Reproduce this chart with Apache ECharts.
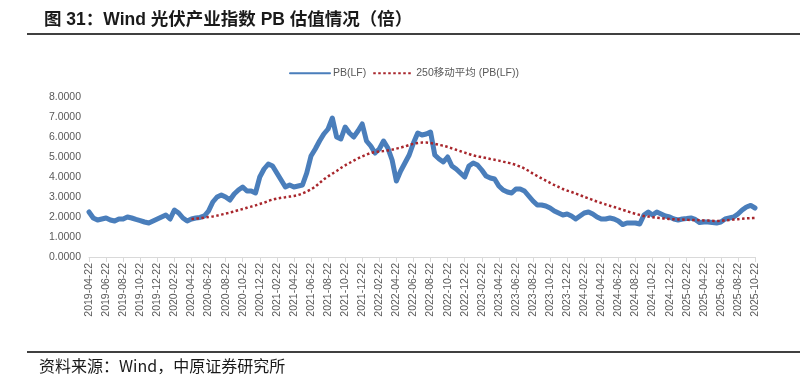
<!DOCTYPE html>
<html>
<head>
<meta charset="utf-8">
<script src="https://cdn.jsdelivr.net/npm/echarts@6/dist/echarts.min.js"></script>
<style>html,body{margin:0;padding:0;background:#fff;}#c{width:809px;height:392px;}</style>
</head>
<body>
<div id="c"></div>
<script>
// Half-month observation dates (category axis)
const dates = [
"2019-04-22","2019-05-07","2019-05-22","2019-06-07","2019-06-22","2019-07-07","2019-07-22","2019-08-07","2019-08-22","2019-09-07","2019-09-22","2019-10-07","2019-10-22","2019-11-07","2019-11-22","2019-12-07","2019-12-22","2020-01-07","2020-01-22","2020-02-07",
"2020-02-22","2020-03-07","2020-03-22","2020-04-07","2020-04-22","2020-05-07","2020-05-22","2020-06-07","2020-06-22","2020-07-07","2020-07-22","2020-08-07","2020-08-22","2020-09-07","2020-09-22","2020-10-07","2020-10-22","2020-11-07","2020-11-22","2020-12-07",
"2020-12-22","2021-01-07","2021-01-22","2021-02-07","2021-02-22","2021-03-07","2021-03-22","2021-04-07","2021-04-22","2021-05-07","2021-05-22","2021-06-07","2021-06-22","2021-07-07","2021-07-22","2021-08-07","2021-08-22","2021-09-07","2021-09-22","2021-10-07",
"2021-10-22","2021-11-07","2021-11-22","2021-12-07","2021-12-22","2022-01-07","2022-01-22","2022-02-07","2022-02-22","2022-03-07","2022-03-22","2022-04-07","2022-04-22","2022-05-07","2022-05-22","2022-06-07","2022-06-22","2022-07-07","2022-07-22","2022-08-07",
"2022-08-22","2022-09-07","2022-09-22","2022-10-07","2022-10-22","2022-11-07","2022-11-22","2022-12-07","2022-12-22","2023-01-07","2023-01-22","2023-02-07","2023-02-22","2023-03-07","2023-03-22","2023-04-07","2023-04-22","2023-05-07","2023-05-22","2023-06-07",
"2023-06-22","2023-07-07","2023-07-22","2023-08-07","2023-08-22","2023-09-07","2023-09-22","2023-10-07","2023-10-22","2023-11-07","2023-11-22","2023-12-07","2023-12-22","2024-01-07","2024-01-22","2024-02-07","2024-02-22","2024-03-07","2024-03-22","2024-04-07",
"2024-04-22","2024-05-07","2024-05-22","2024-06-07","2024-06-22","2024-07-07","2024-07-22","2024-08-07","2024-08-22","2024-09-07","2024-09-22","2024-10-07","2024-10-22","2024-11-07","2024-11-22","2024-12-07","2024-12-22","2025-01-07","2025-01-22","2025-02-07",
"2025-02-22","2025-03-07","2025-03-22","2025-04-07","2025-04-22","2025-05-07","2025-05-22","2025-06-07","2025-06-22","2025-07-07","2025-07-22","2025-08-07","2025-08-22","2025-09-07","2025-09-22","2025-10-07","2025-10-22"
];

// PB(LF)
const pbValues = [
2.25,1.95,1.85,1.90,1.95,1.85,1.80,1.90,1.90,2.00,1.95,1.88,1.82,1.75,1.70,1.80,1.90,2.00,2.10,1.90,
2.35,2.20,1.95,1.80,1.90,1.95,1.98,2.05,2.30,2.75,3.00,3.10,3.00,2.85,3.15,3.35,3.50,3.30,3.30,3.20,
4.00,4.40,4.65,4.55,4.20,3.85,3.50,3.60,3.50,3.55,3.60,4.20,5.05,5.40,5.80,6.15,6.40,6.95,6.00,5.90,
6.50,6.20,6.00,6.30,6.65,5.80,5.55,5.20,5.40,5.80,5.45,4.85,3.80,4.30,4.70,5.10,5.70,6.20,6.10,6.15,
6.25,5.10,4.90,4.75,5.00,4.55,4.40,4.20,4.00,4.55,4.70,4.60,4.35,4.05,3.95,3.90,3.55,3.35,3.25,3.20,
3.40,3.40,3.30,3.05,2.80,2.60,2.60,2.55,2.45,2.30,2.20,2.10,2.15,2.05,1.90,2.05,2.20,2.25,2.15,2.00,
1.90,1.90,1.95,1.90,1.80,1.62,1.70,1.70,1.70,1.65,2.10,2.25,2.10,2.25,2.15,2.05,2.00,1.90,1.85,1.90,
1.92,1.95,1.88,1.72,1.75,1.75,1.72,1.70,1.75,1.90,1.95,2.00,2.15,2.35,2.50,2.58,2.45
];

// 250-day moving average of PB(LF)
const maValues = [
null,null,null,null,null,null,null,null,null,null,null,null,null,null,null,null,null,null,null,null,
null,null,null,null,1.90,1.92,1.94,1.97,2.00,2.03,2.07,2.12,2.17,2.22,2.28,2.34,2.40,2.46,2.52,2.58,
2.65,2.72,2.80,2.87,2.92,2.96,2.99,3.02,3.05,3.10,3.18,3.27,3.38,3.52,3.70,3.88,4.03,4.17,4.30,4.45,
4.58,4.70,4.82,4.93,5.03,5.12,5.20,5.25,5.28,5.30,5.33,5.37,5.42,5.47,5.53,5.60,5.66,5.70,5.72,5.72,
5.70,5.66,5.61,5.56,5.50,5.43,5.36,5.29,5.22,5.15,5.08,5.03,4.99,4.95,4.90,4.86,4.82,4.77,4.72,4.67,
4.60,4.52,4.42,4.30,4.17,4.05,3.93,3.82,3.71,3.60,3.50,3.40,3.32,3.25,3.17,3.09,3.01,2.93,2.85,2.77,
2.70,2.63,2.56,2.50,2.43,2.36,2.29,2.22,2.16,2.10,2.05,2.02,1.99,1.96,1.94,1.92,1.90,1.89,1.88,1.87,
1.86,1.85,1.85,1.84,1.83,1.82,1.81,1.80,1.81,1.83,1.85,1.87,1.89,1.91,1.93,1.94,1.95
];

const seriesNames = ["PB(LF)", "250移动平均 (PB(LF))"];
const titleText = "图 31：Wind 光伏产业指数 PB 估值情况（倍）";
const sourceText = "资料来源：Wind，中原证券研究所";

const chart = echarts.init(document.getElementById('c'), null, {renderer: 'canvas'});
const labelFont = '"Liberation Sans", "Noto Sans CJK SC", sans-serif';
chart.setOption({
  animation: false,
  backgroundColor: '#ffffff',
  title: {
    text: titleText,
    left: 39, top: 6,
    textStyle: {fontSize: 17.5, fontWeight: 'bold', color: '#1a1a1a', fontFamily: '"Liberation Sans", "Noto Sans CJK SC", sans-serif'}
  },
  graphic: [
    {type: 'line', shape: {x1: 27, y1: 34, x2: 800, y2: 34}, style: {stroke: '#000', lineWidth: 1.5}},
    {type: 'line', shape: {x1: 27, y1: 352, x2: 800, y2: 352}, style: {stroke: '#000', lineWidth: 1.5}},
    {type: 'text', left: 39, top: 358, style: {text: sourceText, fontSize: 16, fill: '#1a1a1a', fontFamily: '"Noto Sans CJK SC", "Liberation Sans", sans-serif'}}
  ],
  legend: {
    left: 284, top: 63,
    itemWidth: 40, itemHeight: 6, itemGap: 6,
    itemStyle: {opacity: 0},
    textStyle: {fontSize: 10.5, color: '#595959', fontFamily: labelFont, padding: [0, 0, 0, -2]},
    data: seriesNames
  },
  grid: {left: 89, right: 54, top: 97, bottom: 135, containLabel: false},
  xAxis: {
    type: 'category',
    data: dates,
    boundaryGap: false,
    axisLine: {lineStyle: {color: '#d9d9d9'}},
    axisTick: {show: true, interval: 3, length: 5, lineStyle: {color: '#d9d9d9'}},
    axisLabel: {interval: 3, rotate: 90, fontSize: 10.5, color: '#595959', margin: 6, fontFamily: labelFont}
  },
  yAxis: {
    type: 'value', min: 0, max: 8, interval: 1,
    splitLine: {show: false},
    axisLine: {show: false},
    axisTick: {show: false},
    axisLabel: {fontSize: 10.5, color: '#595959', margin: 8, fontFamily: labelFont,
      formatter: v => v.toFixed(4)}
  },
  series: [
    {
      name: seriesNames[0], type: 'line', data: pbValues,
      showSymbol: false, symbol: 'none',
      lineStyle: {color: '#4a7ebb', width: 5, join: 'round', cap: 'round'},
      itemStyle: {color: '#4a7ebb'},
      z: 2
    },
    {
      name: seriesNames[1], type: 'line', data: maValues,
      showSymbol: false, symbol: 'none', smooth: 0.3,
      lineStyle: {color: '#a8262c', width: 2.5, type: [2.5, 2.5]},
      itemStyle: {color: '#a8262c'},
      z: 3
    }
  ]
});
</script>
</body>
</html>
